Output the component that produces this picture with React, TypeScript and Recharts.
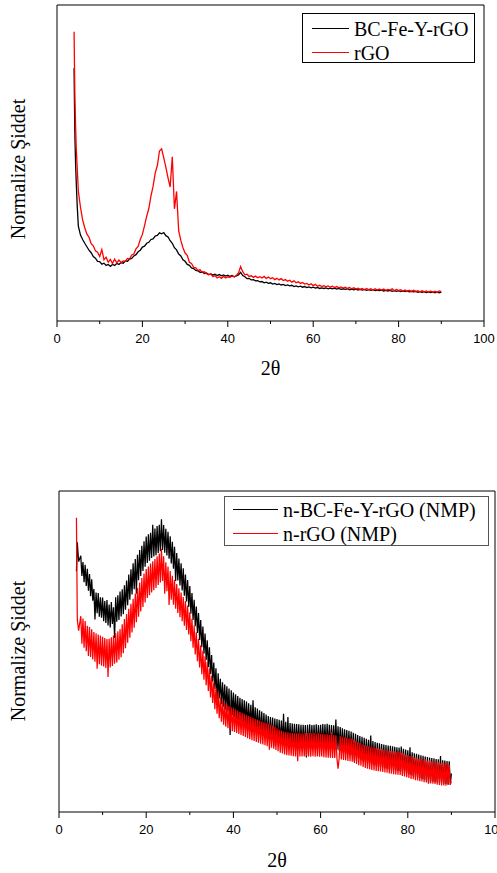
import React from "react";
import { LineChart, Line, XAxis, YAxis, Legend } from "recharts";

const serif = '"Liberation Serif", "Times New Roman", serif';
const sans = '"Liberation Sans", Arial, sans-serif';

// ---- top panel: BC-Fe-Y-rGO vs rGO ----
const topTheta = [
  4, 4.1, 4.2, 4.35, 4.5, 4.75, 5,
  5.5, 6, 6.5, 7, 7.5, 8, 8.5, 9, 9.5, 10,
  10.5, 11, 11.5, 12, 12.5, 13, 13.5, 14, 14.5, 15,
  15.5, 16, 16.5, 17, 17.5, 18, 18.5, 19, 19.5, 20,
  20.5, 21, 21.5, 22, 22.5, 23, 23.5, 24, 24.5, 25,
  25.5, 26, 26.5, 27, 27.5, 28, 28.5, 29, 29.5, 30,
  30.5, 31, 31.5, 32, 32.5, 33, 33.5, 34, 34.5, 35,
  35.5, 36, 36.5, 37, 37.5, 38, 38.5, 39, 39.5, 40,
  40.5, 41, 41.5, 42, 42.5, 43, 43.5, 44, 44.5, 45,
  45.5, 46, 46.5, 47, 47.5, 48, 48.5, 49, 49.5, 50,
  50.5, 51, 51.5, 52, 52.5, 53, 53.5, 54, 54.5, 55,
  55.5, 56, 56.5, 57, 57.5, 58, 58.5, 59, 59.5, 60,
  60.5, 61, 61.5, 62, 62.5, 63, 63.5, 64, 64.5, 65,
  65.5, 66, 66.5, 67, 67.5, 68, 68.5, 69, 69.5, 70,
  70.5, 71, 71.5, 72, 72.5, 73, 73.5, 74, 74.5, 75,
  75.5, 76, 76.5, 77, 77.5, 78, 78.5, 79, 79.5, 80,
  80.5, 81, 81.5, 82, 82.5, 83, 83.5, 84, 84.5, 85,
  85.5, 86, 86.5, 87, 87.5, 88, 88.5, 89, 89.5, 90,
];

const topBlack = [
  80, 68, 58, 50, 44, 36, 30,
  27.2, 25.8, 24.6, 23.5, 22.4, 21.6, 20.4, 19.9, 18.9, 18.8,
  18.0, 18.3, 17.6, 17.9, 17.3, 17.9, 17.6, 18.2, 17.9, 18.5,
  18.3, 19.0, 18.9, 19.6, 19.8, 20.6, 21.0, 21.9, 22.4, 23.4,
  23.7, 24.6, 24.9, 25.8, 26.0, 26.9, 27.1, 27.9, 27.6, 28.0,
  27.0, 26.6, 25.4, 24.6, 23.2, 22.5, 21.2, 20.6, 19.4, 18.9,
  17.9, 17.6, 16.8, 16.6, 16.0, 15.9, 15.4, 15.5, 15.0, 15.2,
  14.7, 14.9, 14.5, 14.8, 14.4, 14.7, 14.3, 14.6, 14.2, 14.5,
  14.1, 14.4, 14.0, 14.3, 14.6, 15.4, 14.4, 14.0, 13.4, 13.5,
  13.0, 13.1, 12.7, 12.8, 12.4, 12.5, 12.1, 12.3, 11.9, 12.1,
  11.7, 11.9, 11.5, 11.7, 11.4, 11.6, 11.2, 11.4, 11.1, 11.3,
  10.9, 11.1, 10.8, 11.0, 10.7, 10.9, 10.6, 10.8, 10.5, 10.7,
  10.4, 10.6, 10.3, 10.5, 10.3, 10.5, 10.2, 10.4, 10.2, 10.4,
  10.1, 10.3, 10.0, 10.2, 10.0, 10.2, 9.9, 10.1, 9.9, 10.1,
  9.8, 10.0, 9.8, 10.0, 9.7, 9.9, 9.7, 9.9, 9.6, 9.8,
  9.6, 9.8, 9.5, 9.7, 9.5, 9.7, 9.4, 9.6, 9.4, 9.6,
  9.3, 9.5, 9.3, 9.5, 9.2, 9.4, 9.2, 9.4, 9.1, 9.3,
  9.1, 9.3, 9.0, 9.2, 9.0, 9.2, 8.9, 9.2, 8.9, 9.1,
];

const topRed = [
  91.5, 80, 70, 62, 55, 48, 41,
  36, 32, 29.5, 27.5, 26.5, 24.5, 23.8, 22.2, 21.8, 20.4,
  22.6, 19.4, 20.2, 18.6, 19.5, 18.2, 19.6, 18.4, 19.3, 18.5,
  19.0, 18.9, 19.8, 19.6, 20.9, 21.2, 22.8, 23.6, 25.8, 27.4,
  30.2, 33.1, 35.6, 39.5, 42.6, 46.8, 49.2, 53.8, 54.5, 51.6,
  48.6, 45.3, 42.4, 52, 35.5, 41, 28.5, 25.5, 23.2, 21.5,
  20.8, 18.6, 18.2, 17.0, 16.8, 16.0, 16.2, 15.4, 15.6, 15.0,
  14.6, 14.9, 14.0, 14.4, 13.6, 14.0, 13.5, 14.1, 13.6, 14.0,
  13.8, 14.2, 14.0, 14.4, 15.2, 17.2, 15.6, 14.6, 14.8, 14.1,
  14.3, 13.8, 14.2, 13.7, 14.0, 13.6, 14.1, 13.5, 13.9, 13.4,
  13.7, 13.1, 13.5, 13.0, 13.4, 12.8, 13.1, 12.6, 12.9, 12.3,
  12.7, 12.1, 12.4, 11.9, 12.2, 11.7, 11.9, 11.4, 11.8, 11.2,
  11.6, 11.0, 11.3, 10.9, 11.2, 10.8, 11.1, 10.7, 11.0, 10.6,
  10.9, 10.5, 10.8, 10.4, 10.7, 10.3, 10.6, 10.2, 10.5, 10.1,
  10.4, 10.0, 10.3, 9.9, 10.3, 9.9, 10.2, 9.8, 10.2, 9.8,
  10.1, 9.7, 10.1, 9.7, 10.0, 9.8, 10.2, 9.6, 10.0, 9.6,
  9.9, 9.5, 9.8, 9.4, 9.7, 9.3, 9.7, 9.3, 9.6, 9.2,
  9.6, 9.2, 9.5, 9.1, 9.5, 9.1, 9.4, 9.0, 9.5, 9.3,
];

// ---- bottom panel: NMP dispersions (noisy, read at 0.25 deg) ----
const botTheta = [
  4, 4.2, 4.5,
  5, 5.25, 5.5, 5.75, 6, 6.25, 6.5, 6.75,
  7, 7.25, 7.5, 7.75, 8, 8.25, 8.5, 8.75,
  9, 9.25, 9.5, 9.75, 10, 10.25, 10.5, 10.75,
  11, 11.25, 11.5, 11.75, 12, 12.25, 12.5, 12.75,
  13, 13.25, 13.5, 13.75, 14, 14.25, 14.5, 14.75,
  15, 15.25, 15.5, 15.75, 16, 16.25, 16.5, 16.75,
  17, 17.25, 17.5, 17.75, 18, 18.25, 18.5, 18.75,
  19, 19.25, 19.5, 19.75, 20, 20.25, 20.5, 20.75,
  21, 21.25, 21.5, 21.75, 22, 22.25, 22.5, 22.75,
  23, 23.25, 23.5, 23.75, 24, 24.25, 24.5, 24.75,
  25, 25.25, 25.5, 25.75, 26, 26.25, 26.5, 26.75,
  27, 27.25, 27.5, 27.75, 28, 28.25, 28.5, 28.75,
  29, 29.25, 29.5, 29.75, 30, 30.25, 30.5, 30.75,
  31, 31.25, 31.5, 31.75, 32, 32.25, 32.5, 32.75,
  33, 33.25, 33.5, 33.75, 34, 34.25, 34.5, 34.75,
  35, 35.25, 35.5, 35.75, 36, 36.25, 36.5, 36.75,
  37, 37.25, 37.5, 37.75, 38, 38.25, 38.5, 38.75,
  39, 39.25, 39.5, 39.75, 40, 40.25, 40.5, 40.75,
  41, 41.25, 41.5, 41.75, 42, 42.25, 42.5, 42.75,
  43, 43.25, 43.5, 43.75, 44, 44.25, 44.5, 44.75,
  45, 45.25, 45.5, 45.75, 46, 46.25, 46.5, 46.75,
  47, 47.25, 47.5, 47.75, 48, 48.25, 48.5, 48.75,
  49, 49.25, 49.5, 49.75, 50, 50.25, 50.5, 50.75,
  51, 51.25, 51.5, 51.75, 52, 52.25, 52.5, 52.75,
  53, 53.25, 53.5, 53.75, 54, 54.25, 54.5, 54.75,
  55, 55.25, 55.5, 55.75, 56, 56.25, 56.5, 56.75,
  57, 57.25, 57.5, 57.75, 58, 58.25, 58.5, 58.75,
  59, 59.25, 59.5, 59.75, 60, 60.25, 60.5, 60.75,
  61, 61.25, 61.5, 61.75, 62, 62.25, 62.5, 62.75,
  63, 63.25, 63.5, 63.75, 64, 64.25, 64.5, 64.75,
  65, 65.25, 65.5, 65.75, 66, 66.25, 66.5, 66.75,
  67, 67.25, 67.5, 67.75, 68, 68.25, 68.5, 68.75,
  69, 69.25, 69.5, 69.75, 70, 70.25, 70.5, 70.75,
  71, 71.25, 71.5, 71.75, 72, 72.25, 72.5, 72.75,
  73, 73.25, 73.5, 73.75, 74, 74.25, 74.5, 74.75,
  75, 75.25, 75.5, 75.75, 76, 76.25, 76.5, 76.75,
  77, 77.25, 77.5, 77.75, 78, 78.25, 78.5, 78.75,
  79, 79.25, 79.5, 79.75, 80, 80.25, 80.5, 80.75,
  81, 81.25, 81.5, 81.75, 82, 82.25, 82.5, 82.75,
  83, 83.25, 83.5, 83.75, 84, 84.25, 84.5, 84.75,
  85, 85.25, 85.5, 85.75, 86, 86.25, 86.5, 86.75,
  87, 87.25, 87.5, 87.75, 88, 88.25, 88.5, 88.75,
  89, 89.25, 89.5, 89.75, 90,
];

const botBlack = [
  75, 84, 78,
  79.8, 73.5, 77.9, 71.6, 77.0, 70.4, 75.8, 68.9,
  74.1, 67.2, 72.5, 65.8, 69.5, 60.0, 68.4, 61.9,
  68.2, 60.8, 66.9, 60.5, 66.8, 59.4, 65.7, 58.9,
  66.0, 58.1, 64.6, 57.5, 65.4, 58.6, 63.8, 54.2,
  66.9, 59.3, 67.5, 59.8, 68.7, 60.9, 69.4, 61.6,
  70.6, 63.0, 72.1, 64.4, 74.0, 66.1, 75.6, 67.8,
  77.5, 69.4, 78.8, 68.0, 80.1, 72.2, 81.6, 73.5,
  82.9, 75.1, 84.3, 76.4, 85.8, 77.6, 86.5, 78.3,
  87.0, 79.1, 89.5, 79.6, 88.3, 80.0, 89.1, 80.7,
  89.5, 81.2, 91.2, 81.6, 89.4, 80.8, 88.2, 79.9,
  87.3, 78.9, 85.9, 77.4, 84.2, 75.8, 82.6, 72.0,
  80.7, 72.1, 79.0, 70.6, 77.5, 69.0, 75.9, 67.4,
  74.0, 65.6, 72.3, 63.9, 70.4, 61.8, 68.2, 59.8,
  66.1, 57.9, 64.0, 55.8, 62.0, 53.6, 59.8, 51.3,
  57.8, 49.3, 55.6, 47.4, 53.5, 45.1, 51.3, 43.0,
  48.9, 40.6, 46.6, 38.4, 44.8, 34.0, 43.2, 35.4,
  41.5, 33.6, 40.4, 32.8, 39.7, 31.9, 39.2, 31.3,
  38.5, 24.0, 37.9, 30.2, 37.2, 29.5, 36.7, 29.0,
  36.1, 28.5, 35.6, 28.0, 35.2, 27.6, 34.8, 27.3,
  34.4, 26.8, 33.9, 26.4, 33.4, 25.9, 34.8, 25.5,
  32.6, 25.1, 32.2, 24.7, 31.7, 24.2, 31.3, 23.8,
  30.8, 23.3, 30.4, 22.9, 29.9, 22.5, 29.6, 22.3,
  29.4, 20.5, 29.1, 21.8, 29.0, 21.5, 28.7, 21.3,
  28.5, 21.2, 30.6, 20.9, 28.1, 20.7, 29.6, 20.5,
  27.7, 20.4, 27.6, 20.2, 27.5, 20.1, 27.4, 20.0,
  27.3, 19.9, 27.2, 19.8, 27.2, 19.8, 27.1, 17.0,
  27.2, 19.8, 27.3, 19.7, 27.1, 19.9, 27.2, 19.8,
  27.3, 19.7, 27.1, 19.9, 27.2, 19.8, 27.4, 19.8,
  27.3, 19.7, 27.5, 19.6, 27.2, 19.7, 27.1, 19.6,
  27.0, 19.5, 28.8, 19.4, 26.7, 19.2, 26.5, 18.9,
  26.1, 18.7, 25.8, 18.4, 25.5, 18.1, 25.3, 17.9,
  25.1, 17.7, 24.7, 15.8, 24.4, 17.0, 24.0, 16.6,
  23.7, 16.3, 23.4, 16.0, 23.1, 15.7, 22.8, 15.4,
  22.5, 15.1, 23.8, 14.9, 22.1, 14.7, 21.8, 14.4,
  21.6, 14.2, 21.4, 14.0, 21.2, 13.8, 21.0, 13.6,
  20.9, 13.5, 20.7, 13.3, 20.6, 13.2, 20.5, 13.1,
  20.3, 12.9, 20.2, 12.8, 20.1, 12.7, 20.4, 12.6,
  19.7, 12.3, 19.5, 12.1, 19.2, 11.8, 20.2, 11.5,
  18.6, 11.2, 18.3, 10.9, 18.1, 10.7, 17.9, 10.5,
  17.7, 10.3, 17.5, 10.1, 17.3, 9.9, 17.1, 8.9,
  17.0, 9.6, 16.8, 9.4, 16.7, 9.3, 16.5, 9.2,
  16.4, 9.1, 17.4, 8.9, 16.1, 8.8, 16.0, 8.7,
  15.9, 8.6, 15.8, 8.5, 12.0,
];

const botRed = [
  91.7, 60, 56.5,
  61.0, 52.4, 60.3, 51.2, 59.5, 50.1, 58.0, 48.6,
  57.6, 48.3, 56.9, 47.5, 56.1, 46.8, 55.7, 44.6,
  55.3, 46.0, 55.0, 45.6, 54.6, 45.3, 54.2, 44.9,
  53.9, 42.1, 54.0, 45.0, 54.4, 45.5, 55.0, 46.2,
  55.7, 46.6, 56.3, 47.4, 57.0, 48.2, 58.5, 49.5,
  60.1, 51.0, 61.7, 52.7, 63.3, 54.3, 64.9, 55.9,
  66.4, 57.4, 68.1, 59.1, 69.8, 60.8, 71.5, 62.5,
  72.9, 63.9, 74.3, 65.3, 75.7, 66.7, 76.5, 67.5,
  77.4, 68.4, 78.1, 69.1, 78.8, 69.8, 79.7, 70.7,
  80.5, 71.5, 81.9, 72.0, 79.7, 68.0, 77.8, 68.8,
  76.5, 64.5, 75.1, 66.1, 73.6, 64.6, 72.3, 63.3,
  71.0, 62.0, 69.7, 60.7, 68.4, 59.4, 67.0, 58.0,
  65.7, 56.7, 64.3, 55.3, 62.2, 53.2, 60.2, 51.2,
  58.1, 49.1, 56.0, 47.0, 54.0, 45.0, 51.9, 42.9,
  50.2, 41.2, 48.5, 39.5, 46.7, 37.7, 44.7, 35.7,
  42.4, 34.0, 40.4, 32.0, 38.6, 30.6, 37.2, 29.2,
  35.7, 28.1, 34.8, 27.2, 34.0, 26.6, 33.5, 26.1,
  33.0, 25.6, 32.6, 25.2, 32.2, 24.9, 31.9, 24.6,
  31.5, 24.3, 31.2, 24.0, 30.9, 23.7, 30.6, 23.4,
  30.2, 23.0, 29.9, 22.7, 29.6, 22.4, 29.3, 22.1,
  29.0, 21.8, 28.8, 21.6, 28.5, 21.3, 28.2, 21.0,
  28.0, 20.8, 27.7, 20.5, 27.5, 19.4, 27.2, 20.0,
  26.9, 19.7, 26.5, 19.3, 26.1, 18.9, 25.7, 18.5,
  25.4, 18.2, 25.1, 17.9, 24.9, 17.7, 24.8, 17.6,
  24.7, 17.5, 24.6, 17.4, 24.5, 17.3, 24.5, 15.8,
  24.5, 17.3, 24.5, 17.3, 24.4, 17.3, 24.5, 17.4,
  24.5, 17.3, 24.6, 17.2, 24.5, 17.4, 24.7, 17.2,
  24.4, 17.3, 24.5, 17.2, 24.4, 17.3, 24.3, 17.1,
  24.2, 17.0, 24.2, 16.9, 24.0, 16.9, 24.8, 16.8,
  24.0, 16.8, 23.9, 16.7, 13.5, 16.6, 23.7, 16.4,
  23.4, 16.2, 23.3, 16.1, 23.1, 15.9, 22.9, 15.8,
  22.9, 15.7, 22.6, 15.3, 22.2, 15.0, 21.8, 14.6,
  21.6, 14.4, 21.1, 14.0, 20.9, 13.7, 20.6, 13.5,
  20.5, 13.3, 20.2, 13.1, 20.1, 12.9, 19.9, 12.8,
  19.9, 12.7, 19.6, 12.6, 19.7, 12.5, 19.4, 12.3,
  19.4, 12.2, 19.1, 12.0, 19.1, 11.9, 18.9, 11.8,
  18.9, 11.7, 18.7, 11.6, 18.7, 11.5, 18.5, 11.2,
  18.3, 11.1, 17.9, 10.8, 17.8, 10.6, 17.4, 10.3,
  17.4, 10.2, 17.0, 9.9, 17.0, 9.8, 16.6, 9.6,
  16.7, 9.5, 16.3, 9.3, 16.4, 9.2, 16.0, 9.0,
  16.1, 8.9, 15.8, 8.8, 15.9, 8.7, 15.5, 8.5,
  15.6, 8.4, 15.2, 8.3, 15.4, 8.3, 15.0, 8.2,
  15.2, 8.4, 14.7, 8.6, 9.5,
];

const xTicks = [0, 10, 20, 30, 40, 50, 60, 70, 80, 90, 100];
const xLabelled = [0, 20, 40, 60, 80, 100];
const yTicks = [8.27, 16.54, 24.81, 33.08, 41.35, 49.62, 57.89, 66.16, 74.43, 82.7, 90.97, 99.24];

// tick lines drawn by hand so the minor ones (10, 30, ...) are shorter
function XTick({ x, y, payload }) {
  const major = xLabelled.includes(payload.value);
  const axisY = y - 13;
  return (
    <g>
      <line x1={x} x2={x} y1={axisY} y2={axisY + (major ? 6 : 3)} stroke="#000" />
      {major && (
        <text x={x} y={y} dy="0.71em" textAnchor="middle" fontSize={13} fontFamily={sans} fill="#000">
          {payload.value}
        </text>
      )}
    </g>
  );
}

function LegendBox({ payload, box }) {
  return (
    <div
      style={{
        position: "relative",
        width: box.w,
        height: box.h,
        border: box.border,
        boxSizing: "border-box",
        background: "#fff",
        fontFamily: serif,
        fontSize: 20,
        color: "#000",
      }}
    >
      {(payload || []).map((p, i) => (
        <div key={p.value} style={{ position: "absolute", left: 0, top: box.rows[i] - 12, height: 24, width: "100%" }}>
          <div
            style={{
              position: "absolute",
              left: box.sampleLeft,
              top: 11,
              width: box.sampleWidth,
              height: 0,
              borderTop: `1.4px solid ${p.color}`,
            }}
          />
          <div style={{ position: "absolute", left: box.textLeft, top: 0, lineHeight: "24px", whiteSpace: "nowrap" }}>
            {p.value}
          </div>
        </div>
      ))}
    </div>
  );
}

function XrdPanel({ theta, black, red, blackName, redName, top, height, margin, legend, yLabelY, xLabelDy, lineWidth }) {
  const data = theta.map((t, i) => ({ t, a: black[i], b: red[i] }));
  return (
    <div style={{ position: "absolute", left: 0, top }}>
      <LineChart width={497} height={height} data={data} margin={margin}>
        <XAxis
          xAxisId="x"
          type="number"
          dataKey="t"
          domain={[0, 100]}
          ticks={xTicks}
          interval={0}
          tickSize={6}
          tickMargin={7}
          tickLine={false}
          height={30}
          stroke="#000"
          tick={<XTick />}
          label={{
            content: ({ viewBox }) => (
              <text
                x={viewBox.x + viewBox.width / 2}
                y={viewBox.y + xLabelDy}
                textAnchor="middle"
                dominantBaseline="central"
                fontFamily={serif}
                fontSize={20}
                fill="#000"
              >
                2θ
              </text>
            ),
          }}
        />
        <XAxis
          xAxisId="top"
          orientation="top"
          type="number"
          dataKey="t"
          domain={[0, 100]}
          ticks={xTicks}
          interval={0}
          tick={false}
          tickSize={-3}
          height={1}
          stroke="#000"
        />
        <YAxis
          yAxisId="y"
          type="number"
          domain={[0, 100]}
          ticks={yTicks}
          interval={0}
          tick={false}
          tickSize={-3}
          width={1}
          stroke="#000"
          label={{
            content: () => (
              <text
                x={18}
                y={yLabelY}
                transform={`rotate(-90 18 ${yLabelY})`}
                textAnchor="middle"
                dominantBaseline="central"
                fontFamily={serif}
                fontSize={20}
                fill="#000"
              >
                Normalize Şiddet
              </text>
            ),
          }}
        />
        <YAxis
          yAxisId="r"
          orientation="right"
          type="number"
          domain={[0, 100]}
          ticks={yTicks}
          interval={0}
          tick={false}
          tickSize={-3}
          width={1}
          stroke="#000"
        />
        <Legend
          layout="vertical"
          align="center"
          verticalAlign="middle"
          wrapperStyle={{ left: legend.left, top: legend.top, width: legend.w, height: legend.h }}
          content={(props) => <LegendBox payload={props.payload} box={legend} />}
        />
        <Line
          xAxisId="x"
          yAxisId="y"
          type="linear"
          dataKey="a"
          name={blackName}
          stroke="#000000"
          strokeWidth={lineWidth}
          dot={false}
          isAnimationActive={false}
        />
        <Line
          xAxisId="x"
          yAxisId="y"
          type="linear"
          dataKey="b"
          name={redName}
          stroke="#ff0000"
          strokeWidth={lineWidth}
          dot={false}
          isAnimationActive={false}
        />
      </LineChart>
    </div>
  );
}

export default function App() {
  return (
    <div style={{ position: "absolute", left: 0, top: 0, width: 497, height: 873, background: "#fff", overflow: "hidden" }}>
      <XrdPanel
        theta={topTheta}
        black={topBlack}
        red={topRed}
        blackName="BC-Fe-Y-rGO"
        redName="rGO"
        top={0}
        height={380}
        margin={{ top: 4, right: 12, bottom: 29, left: 56 }}
        yLabelY={169}
        xLabelDy={47}
        lineWidth={1.3}
        legend={{
          left: 302,
          top: 13,
          w: 173,
          h: 50,
          border: "1px solid #000",
          sampleLeft: 9,
          sampleWidth: 37,
          textLeft: 51,
          rows: [15, 39],
        }}
      />
      <XrdPanel
        theta={botTheta}
        black={botBlack}
        red={botRed}
        blackName="n-BC-Fe-Y-rGO (NMP)"
        redName="n-rGO (NMP)"
        top={480}
        height={393}
        margin={{ top: 10, right: 1, bottom: 31, left: 58 }}
        yLabelY={171}
        xLabelDy={48}
        lineWidth={1.25}
        legend={{
          left: 224,
          top: 16,
          w: 265,
          h: 50,
          border: "1.5px solid #555",
          sampleLeft: 8,
          sampleWidth: 45,
          textLeft: 58,
          rows: [13, 37],
        }}
      />
    </div>
  );
}
